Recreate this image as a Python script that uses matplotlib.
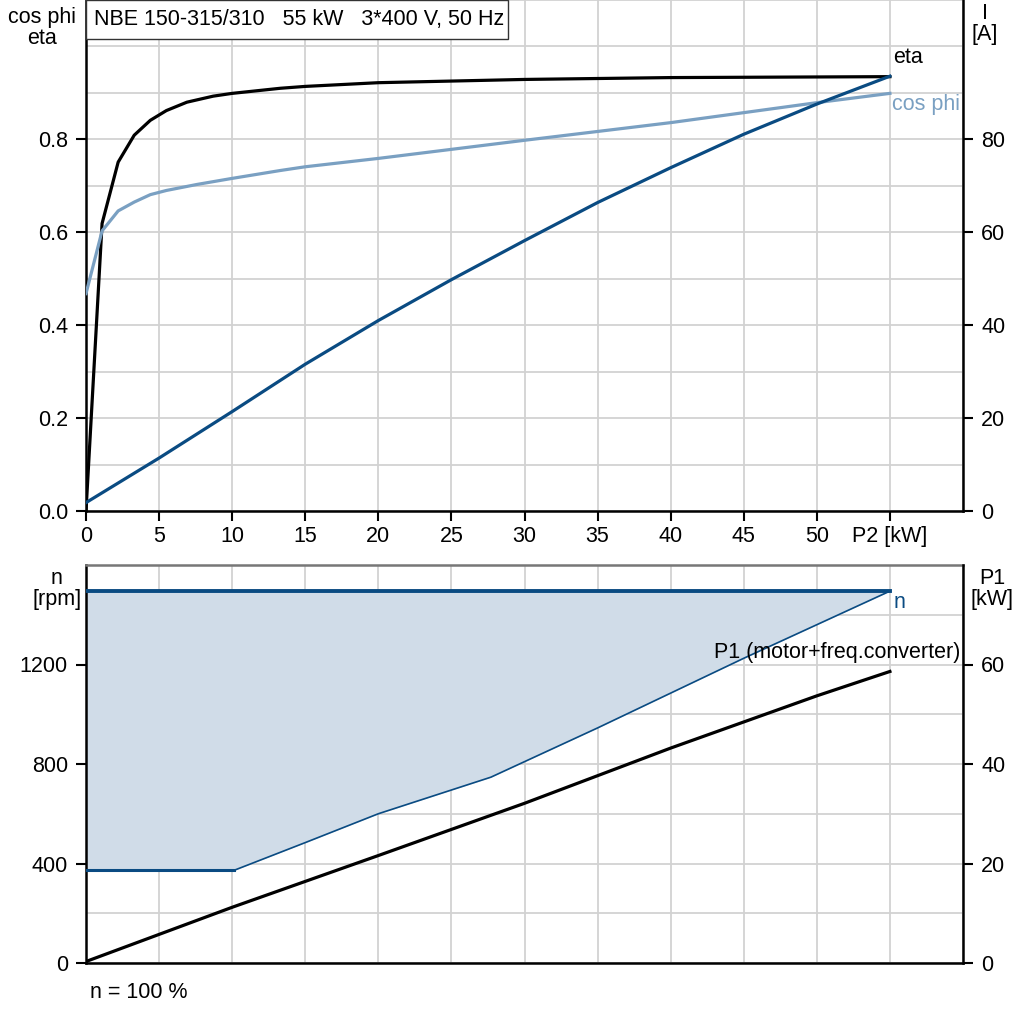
"""
Motor data sheet chart: cos phi / eta / I vs P2 (top), speed range + P1 vs P2 (bottom).
"""
import matplotlib
matplotlib.use("Agg")
import matplotlib.pyplot as plt
from matplotlib.patches import Rectangle

plt.rcParams["font.family"] = ["Liberation Sans", "DejaVu Sans"]
plt.rcParams["font.size"] = 15.5

TITLE = "NBE 150-315/310   55 kW   3*400 V, 50 Hz"

# ── top panel ───────────────────────────────────────────────────────────────
ETA_X = [0, 1.1, 2.2, 3.3, 4.4, 5.5, 6.9, 8.7, 10, 13.3, 15, 20, 30, 40, 55]
ETA = [0, 0.619, 0.751, 0.809, 0.841, 0.862, 0.880, 0.893, 0.899, 0.910,
       0.914, 0.922, 0.929, 0.933, 0.935]

COS_X = [0, 1.1, 2.2, 3.3, 4.4, 5.5, 7.6, 10, 13.3, 15, 20, 30, 40, 50, 55]
COS_PHI = [0.468, 0.603, 0.646, 0.665, 0.681, 0.690, 0.703, 0.716, 0.733,
           0.741, 0.759, 0.798, 0.836, 0.879, 0.899]

I_X = [0, 5, 10, 15, 20, 25, 30, 35, 40, 45, 50, 55]
CURRENT = [1.8, 11.4, 21.4, 31.6, 41.0, 49.8, 58.2, 66.4, 73.9, 81.1, 87.6, 93.6]

P2_TICKS = [0, 5, 10, 15, 20, 25, 30, 35, 40, 45, 50, 55]
P2_LABELS = ["0", "5", "10", "15", "20", "25", "30", "35", "40", "45", "50", "P2 [kW]"]

# ── bottom panel ────────────────────────────────────────────────────────────
N_TOP_X = [0, 55]
N_MAX = 1495
N_LOW_X = [0, 10.15, 15, 20, 27.7, 35, 45, 55]
N_LOW = [373, 373, 484, 600, 747, 945, 1225, 1495]

P1_X = [0, 10, 20, 30, 40, 50, 55]
P1 = [0.3, 11.2, 21.6, 32.1, 43.2, 53.7, 58.6]

BLACK = "#000000"
DARK_BLUE = "#0a4b82"
LIGHT_BLUE = "#7aa0c2"
FILL = "#d0dce8"
GRID = "#d2d2d2"


def style_axes(ax, top_spine=True):
    ax.set_xlim(0, 60)
    ax.set_xticks(range(0, 61, 5), minor=True)
    ax.grid(True, which="both", color=GRID, lw=1.3)
    ax.set_axisbelow(True)
    for side in ("left", "bottom"):
        ax.spines[side].set_linewidth(1.8)
    ax.spines["right"].set_visible(False)
    if top_spine:
        ax.spines["top"].set_color("#777777")
        ax.spines["top"].set_linewidth(1.8)
    else:
        ax.spines["top"].set_visible(False)
    ax.tick_params(which="minor", length=0)
    ax.tick_params(which="major", length=7, width=1.5, direction="out")


def twin_right(ax, ymax, ticks):
    rx = ax.twinx()
    rx.set_ylim(0, ymax)
    rx.set_yticks(ticks)
    for side in ("left", "bottom", "top"):
        rx.spines[side].set_visible(False)
    rx.spines["right"].set_linewidth(1.8)
    rx.tick_params(length=7, width=1.5, pad=6)
    return rx


def main():
    fig = plt.figure(figsize=(10.24, 10.24), dpi=100)

    # top panel
    ax = fig.add_axes([86 / 1024, 1 - 511 / 1024, 877 / 1024, 511 / 1024])
    style_axes(ax, top_spine=False)
    ax.set_ylim(0, 1.1)
    ax.set_yticks([0, 0.2, 0.4, 0.6, 0.8], ["0.0", "0.2", "0.4", "0.6", "0.8"])
    ax.set_yticks([i / 10 for i in range(12)], minor=True)
    ax.set_xticks(P2_TICKS, P2_LABELS)
    ax.tick_params(axis="y", pad=6)
    ax.tick_params(axis="x", pad=4)

    rx = twin_right(ax, 110, [0, 20, 40, 60, 80])

    ax.plot(ETA_X, ETA, color=BLACK, lw=2.3, zorder=3)
    ax.plot(COS_X, COS_PHI, color=LIGHT_BLUE, lw=2.3, zorder=3)
    rx.plot(I_X, CURRENT, color=DARK_BLUE, lw=2.3, zorder=4)

    ax.annotate("eta", (ETA_X[-1], ETA[-1]), xytext=(2, 13.5),
                textcoords="offset points", ha="left", va="center", color=BLACK)
    ax.annotate("cos phi", (COS_X[-1], COS_PHI[-1]), xytext=(1.5, -8),
                textcoords="offset points", ha="left", va="center", color=LIGHT_BLUE)

    # title box
    fig.add_artist(Rectangle((86 / 1024, 1 - 39 / 1024), 422 / 1024, 39 / 1024,
                             transform=fig.transFigure, facecolor="white",
                             edgecolor="#333333", lw=1.0, zorder=5))
    fig.text(94 / 1024, 1 - 19 / 1024, TITLE, ha="left", va="center", zorder=6)

    fig.text(42 / 1024, 1 - 28 / 1024, "cos phi\neta", ha="center", va="center",
             linespacing=1.05)
    fig.text(985 / 1024, 1 - 24 / 1024, "I\n[A]", ha="center", va="center",
             linespacing=1.05)

    # bottom panel
    bx = fig.add_axes([86 / 1024, 1 - 963 / 1024, 877 / 1024, 398 / 1024])
    style_axes(bx, top_spine=True)
    bx.set_ylim(0, 1600)
    bx.set_yticks([0, 400, 800, 1200])
    bx.set_yticks(range(0, 1601, 200), minor=True)
    bx.set_xticks([])
    bx.tick_params(axis="y", pad=6)

    bx.fill_between(N_LOW_X, N_LOW, N_MAX, color=FILL, lw=0, zorder=1.5)
    bx.plot(N_TOP_X, [N_MAX, N_MAX], color=DARK_BLUE, lw=2.8, zorder=3)
    bx.plot(N_LOW_X[:2], N_LOW[:2], color=DARK_BLUE, lw=2.2, zorder=3)
    bx.plot(N_LOW_X[1:], N_LOW[1:], color=DARK_BLUE, lw=1.2, zorder=3)
    bx.annotate("n", (N_TOP_X[-1], N_MAX), xytext=(2.5, -8.5),
                textcoords="offset points", ha="left", va="center", color=DARK_BLUE)

    px = twin_right(bx, 80, [0, 20, 40, 60])
    px.plot(P1_X, P1, color=BLACK, lw=2.3, zorder=3)
    px.annotate("P1 (motor+freq.converter)", (P1_X[-1], P1[-1]), xytext=(51, 13.5),
                textcoords="offset points", ha="right", va="center", color=BLACK)

    fig.text(57 / 1024, 1 - 589 / 1024, "n\n[rpm]", ha="center", va="center",
             linespacing=1.05)
    fig.text(992 / 1024, 1 - 589 / 1024, "P1\n[kW]", ha="center", va="center",
             linespacing=1.05)
    fig.text(90 / 1024, 1 - 992 / 1024, "n = 100 %", ha="left", va="center")

    fig.savefig("out.png", dpi=100)
    plt.close(fig)


if __name__ == "__main__":
    main()
